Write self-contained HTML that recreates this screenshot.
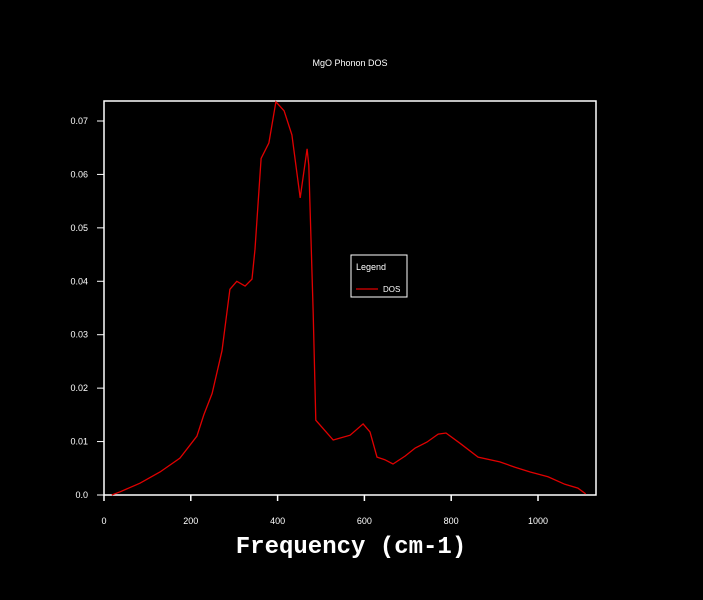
<!DOCTYPE html>
<html><head><meta charset="utf-8"><style>
body{margin:0;background:#000;}
svg{display:block}
text{font-family:"Liberation Sans",sans-serif;fill:#fff}
</style></head><body>
<svg width="703" height="600">
<text x="350" y="66" font-size="9" text-anchor="middle">MgO Phonon DOS</text>
<rect x="104" y="101" width="492" height="394" fill="none" stroke="#fff" stroke-width="1.5"/>
<g id="xt"></g><g id="yt"></g>
<polyline id="line" fill="none" stroke="#e00000" stroke-width="1.3"/>
<text x="351" y="553" font-size="24" font-weight="bold" text-anchor="middle" style="font-family:'Liberation Mono',monospace">Frequency (cm-1)</text>
<g>
<rect x="351" y="255" width="56" height="42" fill="#000" stroke="#fff" stroke-width="1"/>
<text x="356" y="270" font-size="9">Legend</text>
<line x1="356" y1="289" x2="378" y2="289" stroke="#e00000" stroke-width="1.3"/>
<text x="383" y="292" font-size="8">DOS</text>
</g>
</svg>
<script>
const freq=[18,37,83,129,175,214,230,249,272,283,290,306,325,341,348,362,380,396,415,433,452,468,472,482,488,528,567,597,613,629,647,666,694,717,744,770,788,820,862,912,947,982,1023,1062,1092,1110];
const dos=[0,0.0006,0.0022,0.0043,0.0069,0.011,0.015,0.019,0.027,0.034,0.0385,0.040,0.0391,0.0404,0.046,0.063,0.0659,0.0736,0.0719,0.0674,0.0556,0.0648,0.0617,0.034,0.014,0.0103,0.0112,0.0133,0.0118,0.0071,0.0066,0.0058,0.0073,0.0088,0.0099,0.0114,0.0116,0.0097,0.0071,0.0062,0.0052,0.0043,0.0034,0.002,0.0013,0.0002];
const xTicks=[0,200,400,600,800,1000];
const yTicks=[0,0.01,0.02,0.03,0.04,0.05,0.06,0.07];
const yLabels=["0.0","0.01","0.02","0.03","0.04","0.05","0.06","0.07"];
const X=v=>104+v*0.434, Y=v=>495-v*5343;
const NS="http://www.w3.org/2000/svg";
const line=document.getElementById('line');
line.setAttribute('points',freq.map((f,i)=>X(f).toFixed(1)+','+Y(dos[i]).toFixed(1)).join(' '));
const xt=document.getElementById('xt'),yt=document.getElementById('yt');
xTicks.forEach(t=>{
 const l=document.createElementNS(NS,'line');
 
 
 l.setAttribute('x1',X(t));l.setAttribute('x2',X(t));l.setAttribute('y1',495);l.setAttribute('y2',501);l.setAttribute('stroke','#fff');l.setAttribute('stroke-width','1.5');xt.appendChild(l);
 const s=document.createElementNS(NS,'text');
 
 
 s.setAttribute('x',X(t));s.setAttribute('y',524);s.setAttribute('font-size','9');s.setAttribute('text-anchor','middle');s.textContent=t;xt.appendChild(s);
});
yTicks.forEach((t,i)=>{
 const l=document.createElementNS(NS,'line');
 
 
 l.setAttribute('x1',97);l.setAttribute('x2',104);l.setAttribute('y1',Y(t));l.setAttribute('y2',Y(t));l.setAttribute('stroke','#fff');yt.appendChild(l);
 const s=document.createElementNS(NS,'text');
 
 
 s.setAttribute('x',88);s.setAttribute('y',Y(t)+3);s.setAttribute('font-size','9');s.setAttribute('text-anchor','end');s.textContent=yLabels[i];yt.appendChild(s);
});
</script>
</body></html>
